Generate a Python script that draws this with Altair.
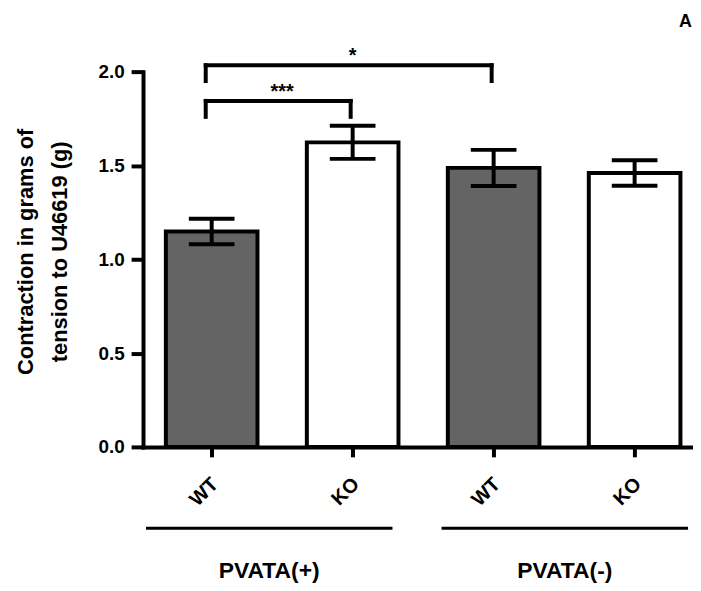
import json
import altair as alt
import pandas as pd

# ---------------- data ----------------
groups = ["PVATA(+)", "PVATA(+)", "PVATA(-)", "PVATA(-)"]
genotypes = ["WT", "KO", "WT", "KO"]
means = [1.148, 1.623, 1.487, 1.460]
sems = [0.068, 0.088, 0.096, 0.068]

# significance brackets: indices of the compared bars
bracket_left = [0, 0]
bracket_right = [1, 2]
bracket_top = [1.844, 2.034]
bracket_leg = [1.759, 1.950]
bracket_labels = ["***", "*"]

group_names = ["PVATA(+)", "PVATA(-)"]
y_ticks = [0.0, 0.5, 1.0, 1.5, 2.0]
y_title = ["Contraction in grams of", "tension to U46619 (g)"]
panel_label = ["A"]

# ---------------- layout / style ----------------
FONT = "Liberation Sans"
W, H = 552, 378
X_DOMAIN = [-0.487, 3.40]      # index units: bar i is centred at i
BAR_W = 0.65                   # bar width in index units
G_PAD_INNER, G_PAD_OUTER = 0.166, 0.01

idx = list(range(len(genotypes)))
df = pd.DataFrame({"idx": idx, "genotype": genotypes, "group": groups,
                   "mean": means, "sem": sems})

bd = pd.DataFrame({"l": bracket_left, "r": bracket_right, "top": bracket_top,
                   "leg": bracket_leg, "label": bracket_labels})

# group underline extents: evenly split the axis range
span = X_DOMAIN[1] - X_DOMAIN[0]
ng = len(group_names)
gstep = span / (ng - G_PAD_INNER + 2 * G_PAD_OUTER)
gbw = gstep * (1 - G_PAD_INNER)
g0 = [X_DOMAIN[0] + G_PAD_OUTER * gstep + i * gstep for i in range(ng)]
gd = pd.DataFrame({"group": group_names, "g0": g0, "g1": [v + gbw for v in g0]})

pl = pd.DataFrame({"t": panel_label})

xscale = alt.Scale(domain=X_DOMAIN, nice=False, zero=False)
yscale = alt.Scale(domain=[0, 2], nice=False, zero=False)

x_axis = alt.Axis(
    title=None, values=idx, grid=False, orient="bottom", ticks=True,
    labelExpr=f"{json.dumps(genotypes)}[datum.value]",
    labelAngle=-45, labelAlign="right", labelBaseline="middle",
    labelPadding=24, labelOffset=3,
    labelFontSize=20, labelFont=FONT, labelFontWeight="bold", labelColor="black",
    domainColor="black", domainWidth=4, domainCap="square",
    tickColor="black", tickWidth=4, tickSize=10, tickOpacity=1,
)
y_axis = alt.Axis(
    title=y_title, values=y_ticks, format=".1f", grid=False, orient="left",
    ticks=True,
    labelFontSize=19, labelFont=FONT, labelFontWeight="bold", labelColor="black",
    labelPadding=7,
    domainColor="black", domainWidth=4, domainCap="square",
    tickColor="black", tickWidth=4, tickSize=12, tickOpacity=1,
    titleX=-111, titleY=181, titleAngle=270, titleAlign="center",
    titleBaseline="alphabetic", titleLineHeight=34,
    titleFontSize=22, titleFont=FONT, titleFontWeight="bold", titleColor="black",
)

def X(field):
    return alt.X(field, scale=xscale, axis=None)

def Y(field):
    return alt.Y(field, scale=yscale, axis=None)

bars = alt.Chart(df).transform_calculate(
    x0=f"datum.idx - {BAR_W / 2}", x1=f"datum.idx + {BAR_W / 2}"
).mark_bar(stroke="black", strokeWidth=4).encode(
    x=alt.X("x0:Q", scale=xscale, axis=x_axis),
    x2="x1:Q",
    y=alt.Y("mean:Q", scale=yscale, axis=y_axis),
    y2=alt.datum(0),
    fill=alt.Fill("genotype:N",
                  scale=alt.Scale(domain=["WT", "KO"], range=["#646464", "#ffffff"]),
                  legend=None),
)
err = alt.Chart(df).transform_calculate(
    lo="datum.mean - datum.sem", hi="datum.mean + datum.sem"
).mark_rule(strokeWidth=4, color="black").encode(
    x=X("idx:Q"), y=Y("lo:Q"), y2="hi:Q")
cap_lo = alt.Chart(df).transform_calculate(lo="datum.mean - datum.sem").mark_tick(
    orient="horizontal", size=46, thickness=4, color="black", opacity=1
).encode(x=X("idx:Q"), y=Y("lo:Q"))
cap_hi = alt.Chart(df).transform_calculate(hi="datum.mean + datum.sem").mark_tick(
    orient="horizontal", size=46, thickness=4, color="black", opacity=1
).encode(x=X("idx:Q"), y=Y("hi:Q"))

# significance brackets
hline = alt.Chart(bd).mark_rule(strokeWidth=4, color="black", strokeCap="square",
                                xOffset=-6, x2Offset=-2).encode(
    x=X("l:Q"), x2="r:Q", y=Y("top:Q"))
leg_l = alt.Chart(bd).mark_rule(strokeWidth=4, color="black", strokeCap="square",
                                xOffset=-6).encode(
    x=X("l:Q"), y=Y("top:Q"), y2="leg:Q")
leg_r = alt.Chart(bd).mark_rule(strokeWidth=4, color="black", strokeCap="square",
                                xOffset=-2).encode(
    x=X("r:Q"), y=Y("top:Q"), y2="leg:Q")
stars = alt.Chart(bd).transform_calculate(mid="(datum.l + datum.r) / 2").mark_text(
    baseline="alphabetic", align="center", dy=-3, fontSize=20, font=FONT,
    fontWeight="bold", color="black"
).encode(x=X("mid:Q"), y=Y("top:Q"), text="label:N")

# group underlines and labels
gline = alt.Chart(gd).mark_rule(strokeWidth=3, color="black").encode(
    x=X("g0:Q"), x2="g1:Q", y=alt.value(460))
gtext = alt.Chart(gd).transform_calculate(gm="(datum.g0 + datum.g1) / 2").mark_text(
    baseline="alphabetic", align="center", fontSize=23, font=FONT,
    fontWeight="bold", color="black"
).encode(x=X("gm:Q"), y=alt.value(510), text="group:N")

panel = alt.Chart(pl).mark_text(align="right", baseline="alphabetic", fontSize=18,
                                font=FONT, fontWeight="bold", color="black").encode(
    x=alt.value(553), y=alt.value(-45), text="t:N")

chart = alt.layer(
    bars, err, cap_lo, cap_hi, hline, leg_l, leg_r, stars, gline, gtext, panel
).resolve_scale(
    x="independent", y="independent"
).properties(
    width=W, height=H,
    autosize=alt.AutoSizeParams(type="none"),
    padding={"left": 136, "top": 62, "right": 2, "bottom": 135},
).configure_view(strokeWidth=0)

chart.save("out.html", embed_options={"renderer": "svg", "actions": False})
